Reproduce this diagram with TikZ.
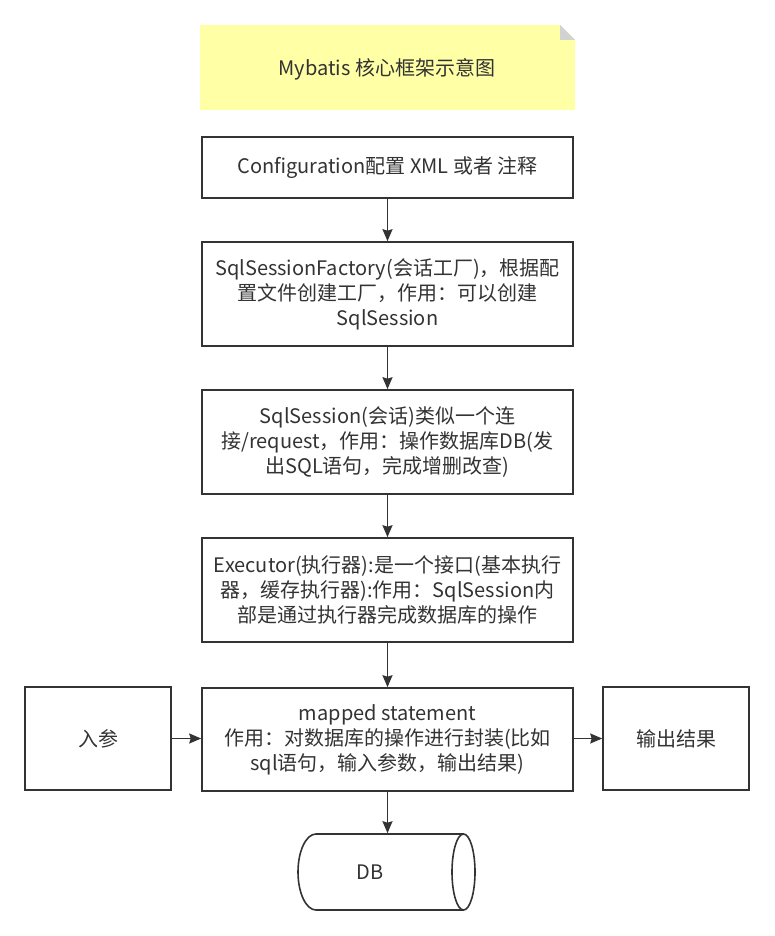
\documentclass[tikz,border=0pt]{standalone}
\usepackage{fontspec}
\setmainfont{Noto Sans CJK SC}
\usetikzlibrary{arrows.meta}
\definecolor{inkgray}{RGB}{51,51,51}
\definecolor{noteyellow}{RGB}{255,255,166}
\definecolor{foldgray}{RGB}{210,210,210}
\tikzset{
  flowbox/.style={rectangle,draw=inkgray,line width=1.6pt,minimum width=371pt,minimum height=104pt,align=center,text=inkgray,font=\fontsize{20}{25}\selectfont,inner sep=0pt},
  sidebox/.style={flowbox,minimum width=146pt,minimum height=103pt},
  flowarrow/.style={draw=inkgray,line width=1.6pt,-{Stealth[length=12pt,width=10pt,inset=1.5pt]}}
}
\begin{document}
\begin{tikzpicture}[x=1pt,y=-1pt]
\useasboundingbox (0,0) rectangle (774,936);
\fill[white] (0,0) rectangle (774,936);
% note
\fill[noteyellow] (200,25) -- (560,25) -- (575,40) -- (575,110) -- (200,110) -- cycle;
\fill[foldgray] (560,25) -- (560,40) -- (575,40) -- cycle;
\node[text=inkgray,font=\fontsize{20}{25}\selectfont] (note) at (387,69) {Mybatis 核心框架示意图};

\node[flowbox,minimum height=61pt] (conf) at (387.5,167.5) {Configuration配置 XML 或者 注释};
\node[flowbox] (factory) at (387.5,294) {SqlSessionFactory(会话工厂)，根据配\\置文件创建工厂，作用：可以创建\\SqlSession};
\node[flowbox] (session) at (387.5,442) {SqlSession(会话)类似一个连\\接/request，作用：操作数据库DB(发\\出SQL语句，完成增删改查)};
\node[flowbox] (executor) at (387.5,590) {Executor(执行器):是一个接口(基本执行\\器，缓存执行器):作用：SqlSession内\\部是通过执行器完成数据库的操作};
\node[flowbox,minimum height=103pt] (mapped) at (387.5,739.5) {mapped statement\\作用：对数据库的操作进行封装(比如\\sql语句，输入参数，输出结果)};
\node[sidebox] (param) at (98,738.5) {入参};
\node[sidebox] (result) at (676,738.5) {输出结果};
% DB cylinder
\node[flowbox,draw=none,minimum width=144pt,minimum height=76pt] (db) at (370,872) {DB};
\draw[inkgray,line width=1.6pt] (316,834) -- (463.5,834);
\draw[inkgray,line width=1.6pt] (463.5,910) -- (316,910);
\draw[inkgray,line width=1.6pt] (316,834) arc[start angle=270,end angle=90,x radius=18,y radius=38];
\draw[inkgray,line width=1.6pt] (463.5,872) ellipse[x radius=11.5,y radius=38];

\draw[flowarrow] (conf) -- (factory);
\draw[flowarrow] (factory) -- (session);
\draw[flowarrow] (session) -- (executor);
\draw[flowarrow] (executor) -- (mapped);
\draw[flowarrow] (param) -- (param -| mapped.west);
\draw[flowarrow] (result -| mapped.east) -- (result);
\draw[flowarrow] (mapped.south) -- (mapped.south |- db.north);

\end{tikzpicture}
\end{document}
